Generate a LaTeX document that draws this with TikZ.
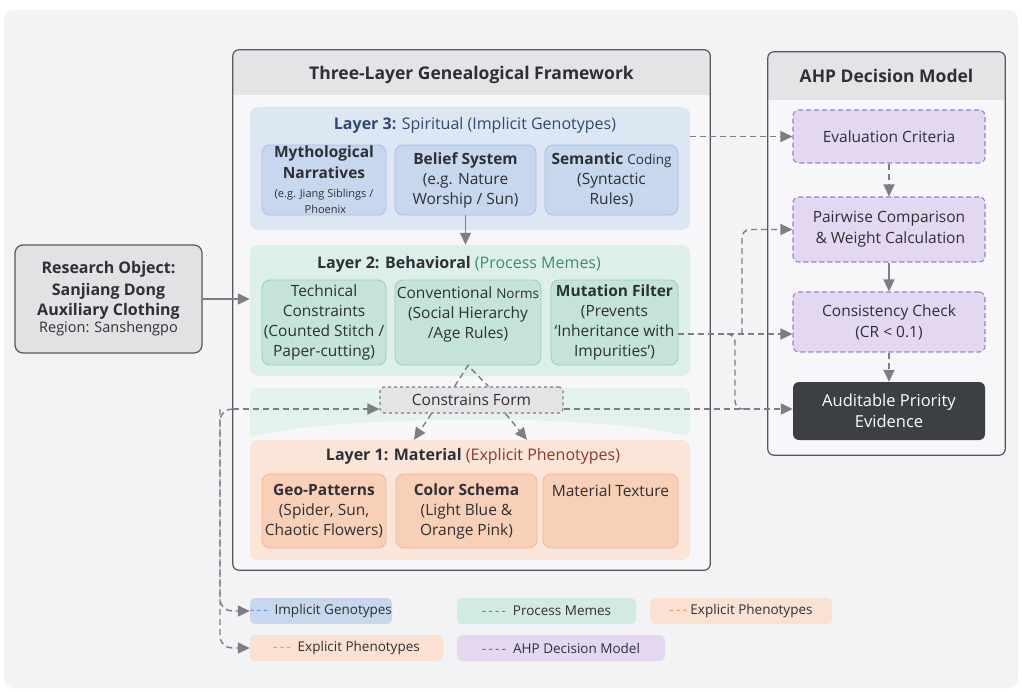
\documentclass[tikz,border=0pt]{standalone}
\usepackage{fontspec}
\setmainfont{Open Sans}
\usetikzlibrary{arrows.meta}

\definecolor{bgfill}{HTML}{F3F3F5}
\definecolor{framefill}{HTML}{F7F7F9}
\definecolor{headfill}{HTML}{E4E4E6}
\definecolor{borderc}{HTML}{55575C}
\definecolor{linec}{HTML}{7D7D84}
\definecolor{textc}{HTML}{2E3035}
\definecolor{bluepanel}{HTML}{DDE7F3}
\definecolor{bluebox}{HTML}{C6D7EE}
\definecolor{blueedge}{HTML}{A8C1E5}
\definecolor{bluetext}{HTML}{2E4A70}
\definecolor{bluedash}{HTML}{4A8FE0}
\definecolor{greenpanel}{HTML}{DCEFE9}
\definecolor{greenbox}{HTML}{C4E3D9}
\definecolor{greenedge}{HTML}{9FCFBF}
\definecolor{greentext}{HTML}{3A8C7A}
\definecolor{orangepanel}{HTML}{FBE5D8}
\definecolor{orangebox}{HTML}{F8CFB7}
\definecolor{orangeedge}{HTML}{F1BA9C}
\definecolor{orangetext}{HTML}{8A3B2B}
\definecolor{orangedash}{HTML}{E8915A}
\definecolor{purplebox}{HTML}{E3D8EF}
\definecolor{purpleedge}{HTML}{9B7FCF}
\definecolor{purpledash}{HTML}{7A4FB8}
\definecolor{darkbox}{HTML}{3C3F44}
\definecolor{graybox}{HTML}{E2E2E4}

\newcommand{\smallnote}{\fontsize{11}{13}\selectfont}

\begin{document}
\begin{tikzpicture}[x=1pt,y=-1pt,
  font=\fontsize{15.5}{20}\selectfont, text=textc,
  panel/.style={rounded corners=8, inner sep=0pt},
  subbox/.style={rounded corners=8, inner sep=1pt, align=center, line width=0.9pt, minimum height=70},
  l3box/.style={subbox, fill=bluebox, draw=blueedge},
  l2box/.style={subbox, fill=greenbox, draw=greenedge, minimum height=85},
  l1box/.style={subbox, fill=orangebox, draw=orangeedge, minimum height=74},
  ahpbox/.style={rounded corners=6, align=center, fill=purplebox, draw=purpleedge, dashed, line width=1.1pt, dash pattern=on 5pt off 3pt, minimum width=192, font=\fontsize{15.5}{21}\selectfont},
  outerbox/.style={rounded corners=6, inner sep=0pt, fill=framefill},
  headtext/.style={font=\fontsize{17.5}{20}\selectfont\bfseries},
  layertext/.style={font=\fontsize{16}{20}\selectfont},
  legbox/.style={rounded corners=5, minimum height=26, inner sep=0pt, font=\fontsize{13.5}{16}\selectfont},
  solidarrow/.style={draw=linec, line width=1.4pt, -{Triangle[length=12pt,width=11pt]}},
  dashline/.style={draw=linec, line width=1.4pt, dash pattern=on 6pt off 4pt},
  dasharrow/.style={dashline, -{Triangle[length=12pt,width=11pt]}}]

% background
\fill[white] (0,0) rectangle (1022,691);
\fill[bgfill, rounded corners=10] (4,10) rectangle (1018,688);

% three-layer framework
\node[outerbox, minimum width=477, minimum height=520] (fw) at (471.5,310) {};
\fill[headfill, rounded corners=6] (fw.north west) rectangle ([yshift=-45pt]fw.north east);
\fill[headfill] ([yshift=-35pt]fw.north west) rectangle ([yshift=-45pt]fw.north east);
\draw[borderc, line width=1.2pt, rounded corners=6] (fw.north west) rectangle (fw.south east);
\node[headtext] (fwtitle) at (471.5,75) {Three-Layer Genealogical Framework};

% layer 3
\node[panel, fill=bluepanel, minimum width=440, minimum height=123] (l3) at (470,168.5) {};
\node[layertext, text=bluetext] (l3title) at (475,125) {\textbf{Layer 3:} Spiritual (Implicit Genotypes)};
\node[l3box, minimum width=124] (myth) at (324,180) {\textbf{Mythological}\\[1pt]\textbf{Narratives}\\[-1pt]{\smallnote (e.g. Jiang Siblings /}\\[-4pt]{\smallnote\ Phoenix}};
\node[l3box, minimum width=141] (belief) at (465.5,180) {\textbf{Belief System}\\(e.g. Nature\\Worship / Sun)};
\node[l3box, minimum width=133] (sem) at (611.5,180) {\textbf{Semantic} {\fontsize{13.5}{16}\selectfont Coding}\\(Syntactic\\Rules)};

% layer 2
\node[panel, fill=greenpanel, minimum width=440, minimum height=131] (l2) at (470,310.5) {};
\node[layertext] (l2title) at (459,264) {\textbf{Layer 2: Behavioral} \textcolor{greentext}{(Process Memes)}};
\node[l2box, minimum width=124] (tech) at (324,322.5) {Technical\\Constraints\\(Counted Stitch /\\Paper-cutting)};
\node[l2box, minimum width=146] (conv) at (468,322.5) {Conventional {\fontsize{13.5}{16}\selectfont Norms}\\(Social Hierarchy\\/Age Rules)\\~};
\node[l2box, minimum width=127] (mut) at (614.5,322.5) {\textbf{Mutation Filter}\\(Prevents\\`Inheritance with\\Impurities')};

% transition band
\fill[greenpanel!80, rounded corners=8] (250,437) -- (250,388) -- (690,388) -- (690,437) [sharp corners] .. controls (600,414) and (340,414) .. (250,437) -- cycle;
\node[rounded corners=4, fill=headfill, draw=linec, dashed, line width=1.1pt, minimum width=183, minimum height=26, inner sep=0pt] (cf) at (471.5,400) {Constrains Form};

% layer 1
\node[panel, fill=orangepanel, minimum width=440, minimum height=120] (l1) at (470,500) {};
\node[layertext] (l1title) at (473,456) {\textbf{Layer 1: Material} \textcolor{orangetext}{(Explicit Phenotypes)}};
\node[l1box, minimum width=124] (geo) at (324,511) {\textbf{Geo-Patterns}\\(Spider, Sun,\\Chaotic Flowers)};
\node[l1box, minimum width=141] (color) at (466.5,511) {\textbf{Color Schema}\\(Light Blue \&\\Orange Pink)};
\node[l1box, minimum width=135] (tex) at (610.5,511) {Material Texture\\~\\~};

% AHP decision model
\node[outerbox, minimum width=237, minimum height=403] (ahp) at (886.5,253.5) {};
\fill[headfill, rounded corners=6] (ahp.north west) rectangle ([yshift=-48pt]ahp.north east);
\fill[headfill] ([yshift=-38pt]ahp.north west) rectangle ([yshift=-48pt]ahp.north east);
\draw[borderc, line width=1.2pt, rounded corners=6] (ahp.north west) rectangle (ahp.south east);
\node[headtext] (ahptitle) at (886.5,76) {AHP Decision Model};
\node[ahpbox, minimum height=53] (eval) at (889,136.5) {Evaluation Criteria};
\node[ahpbox, minimum height=65] (pair) at (889,229.5) {Pairwise Comparison\\\,\& Weight Calculation};
\node[ahpbox, minimum height=60] (cons) at (889,322) {Consistency Check\\(CR < 0.1)};
\node[rounded corners=6, fill=darkbox, text=white, align=center, minimum width=192, minimum height=58, font=\fontsize{16.5}{21}\selectfont] (aud) at (889,411) {Auditable Priority\\Evidence};

% research object
\node[rounded corners=8, fill=graybox, draw=borderc, line width=1.2pt, align=center, minimum width=187, minimum height=108, font=\fontsize{16}{20}\selectfont\bfseries] (ro) at (108.5,299) {Research Object:\\[2pt]Sanjiang Dong\\Auxiliary Clothing\\[-3pt]{\mdseries\fontsize{14.5}{17}\selectfont Region: Sanshengpo}};

% legend
\node[legbox, fill=bluebox, minimum width=142] (leg1) at (321,611) {\textcolor{bluedash}{-\,-\,-}\ \ Implicit Genotypes};
\node[legbox, fill=greenbox!75, minimum width=179] (leg2) at (546.5,611) {\textcolor{greentext}{-\,-\,-\,-}\ \ Process Memes};
\node[legbox, fill=orangepanel!80!orangebox, minimum width=182] (leg3) at (741,611) {\textcolor{orangedash}{-\,-\,-}\ Explicit Phenotypes};
\node[legbox, fill=orangepanel!80!orangebox, minimum width=193] (leg4) at (346.5,648) {\textcolor{orangedash}{-\,-\,-}\ \ Explicit Phenotypes};
\node[legbox, fill=purplebox, minimum width=208] (leg5) at (561,648) {\textcolor{purpledash}{-\,-\,-\,-}\ \ AHP Decision Model};

% junctions
\coordinate (lj) at (fw.west |- 0,409);
\coordinate (lv) at (220,409);
\coordinate (rj) at (742,334);
\coordinate (rk) at (727,334);
\coordinate (rl) at (735,409);

% solid connectors
\draw[solidarrow] (ro.east) -- (l2.west |- ro.east);
\draw[solidarrow] (belief.south) -- (l2.north -| belief.south);
\draw[solidarrow] (pair.south) -- (cons.north);

% dashed connectors
\draw[dasharrow] (l3.east |- eval.west) -- (eval.west);
\draw[dasharrow] (eval.south) -- (pair.north);
\draw[dasharrow] (cons.south) -- (aud.north);
\draw[dasharrow] (mut.east |- rj) -- (cons.west |- rj);
\draw[dasharrow, rounded corners=8] (rj) |- (pair.west);
\draw[dasharrow] (cf.east |- rl) -- (aud.west |- rl);
\draw[dashline, rounded corners=8] (rk) -| (rl) -- ([xshift=10pt]rl);
\draw[dasharrow] (lj) -- (cf.west |- lj);
\draw[dasharrow, rounded corners=12] (lj) -- (lv) |- (leg1.west);
\draw[dasharrow, rounded corners=12] (lv) |- (leg4.west);
\draw[dashline] ([xshift=-17pt]cf.north) -- (conv.south) -- ([xshift=17pt]cf.north);
\draw[dasharrow] ([xshift=-40pt]cf.south) -- ([xshift=-56pt]l1.north);
\draw[dasharrow] ([xshift=34pt]cf.south) -- ([xshift=57pt]l1.north);
\end{tikzpicture}
\end{document}
